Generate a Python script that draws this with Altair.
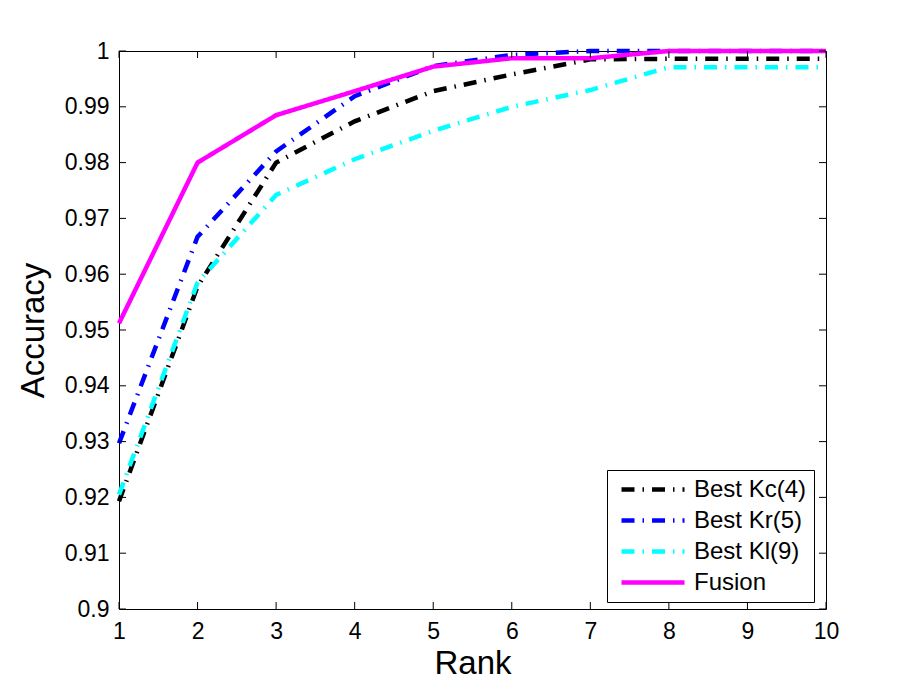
import altair as alt
import pandas as pd

# ---- data ----
ranks = [1, 2, 3, 4, 5, 6, 7, 8, 9, 10]
kc4 = [0.9193, 0.9578, 0.9800, 0.9874, 0.9928, 0.9958, 0.9985, 0.9986, 0.9986, 0.9986]
kr5 = [0.9297, 0.9667, 0.9820, 0.9919, 0.9973, 0.9993, 1.0000, 1.0000, 1.0000, 1.0000]
kl9 = [0.9205, 0.9585, 0.9742, 0.9806, 0.9857, 0.9900, 0.9930, 0.9971, 0.9971, 0.9971]
fusion = [0.9512, 0.9800, 0.9885, 0.9928, 0.9972, 0.9987, 0.9987, 1.0000, 1.0000, 1.0000]

series_names = ["Best Kc(4)", "Best Kr(5)", "Best Kl(9)", "Fusion"]
series_values = [kc4, kr5, kl9, fusion]
series_colors = ["#000000", "#0000FF", "#00FFFF", "#FF00FF"]
series_dashes = [[13, 8, 1.5, 8], [13, 8, 1.5, 8], [13, 8, 1.5, 8], [1, 0]]

x_ticks = [1, 2, 3, 4, 5, 6, 7, 8, 9, 10]
y_ticks = [0.9, 0.91, 0.92, 0.93, 0.94, 0.95, 0.96, 0.97, 0.98, 0.99, 1.0]

rows = []
for name, vals in zip(series_names, series_values):
    for r, v in zip(ranks, vals):
        rows.append({"rank": r, "acc": v, "series": name})
df = pd.DataFrame(rows)
xt = pd.DataFrame({"rank": x_ticks})
yt = pd.DataFrame({"acc": y_ticks})

W, H = 707, 558
FONT = "Liberation Sans"

xscale = alt.Scale(domain=[1, 10], nice=False, zero=False)
yscale = alt.Scale(domain=[0.9, 1.0], nice=False, zero=False)

x_axis = alt.Axis(values=x_ticks, title="Rank", titleBaseline="alphabetic", titleY=64,
                  labelPadding=11, format="d", grid=False, ticks=False, domain=False,
                  labelFlush=False, labelOverlap=False,
                  labelFont=FONT, labelFontSize=23, labelColor="black",
                  titleFont=FONT, titleFontSize=33, titleFontWeight="normal",
                  titleColor="black")
y_axis = alt.Axis(values=y_ticks, title="Accuracy", titleBaseline="alphabetic", titleX=-76,
                  labelPadding=10, labelExpr="format(datum.value, '.2~f')",
                  grid=False, ticks=False, domain=False,
                  labelFlush=False, labelOverlap=False,
                  labelFont=FONT, labelFontSize=23, labelColor="black",
                  titleFont=FONT, titleFontSize=33, titleFontWeight="normal",
                  titleColor="black")

legend = alt.Legend(
    title=None,
    orient="none",
    legendX=488,
    legendY=419,
    symbolType="M-0.5,0H5.8",
    symbolSize=400,
    symbolStrokeWidth=4.5,
    symbolOffset=0,
    labelOffset=55,
    labelFont=FONT,
    labelFontSize=24,
    labelColor="black",
    padding=7,
    rowPadding=6,
    strokeColor="black",
    fillColor="white",
    cornerRadius=0,
)

lines = alt.Chart(df).mark_line(strokeWidth=4.5, strokeCap="butt", strokeJoin="miter").encode(
    x=alt.X("rank:Q", scale=xscale, axis=x_axis),
    y=alt.Y("acc:Q", scale=yscale, axis=y_axis),
    color=alt.Color("series:N", scale=alt.Scale(domain=series_names, range=series_colors),
                    legend=legend, sort=series_names),
    strokeDash=alt.StrokeDash("series:N", scale=alt.Scale(domain=series_names, range=series_dashes),
                              legend=legend, sort=series_names),
    order=alt.Order("rank:Q"),
)

tick_len = 7
bottom_ticks = alt.Chart(xt).mark_rule(color="black", strokeWidth=1).encode(
    x=alt.X("rank:Q", scale=xscale, axis=x_axis), y=alt.value(H), y2=alt.value(H - tick_len))
top_ticks = alt.Chart(xt).mark_rule(color="black", strokeWidth=1).encode(
    x=alt.X("rank:Q", scale=xscale, axis=x_axis), y=alt.value(0), y2=alt.value(tick_len))
left_ticks = alt.Chart(yt).mark_rule(color="black", strokeWidth=1).encode(
    y=alt.Y("acc:Q", scale=yscale, axis=y_axis), x=alt.value(0), x2=alt.value(tick_len))
right_ticks = alt.Chart(yt).mark_rule(color="black", strokeWidth=1).encode(
    y=alt.Y("acc:Q", scale=yscale, axis=y_axis), x=alt.value(W), x2=alt.value(W - tick_len))

chart = alt.layer(lines, bottom_ticks, top_ticks, left_ticks, right_ticks).properties(
    width=W, height=H,
    background="white",
    autosize=alt.AutoSizeParams(type="none"),
    padding={"left": 111, "top": 43, "right": 70, "bottom": 74},
).configure_view(
    stroke="black", strokeWidth=1
).configure_axis(
    grid=False, ticks=False, domain=False, labelFlush=False,
    labelFont=FONT, labelFontSize=23, labelColor="black",
    titleFont=FONT, titleFontSize=33, titleFontWeight="normal", titleColor="black",
)

chart.save("out.html", embed_options={"renderer": "svg", "actions": False})
